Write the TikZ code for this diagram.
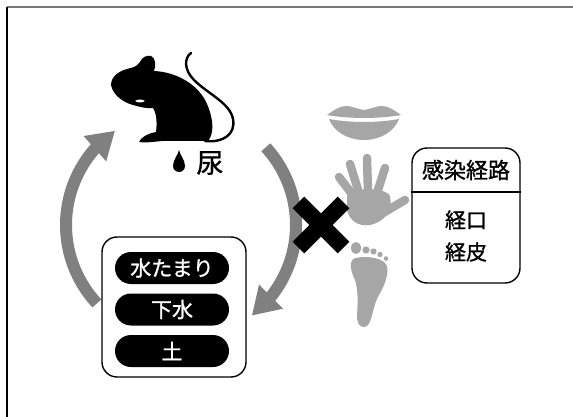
\documentclass[tikz,border=0pt]{standalone}
\usepackage{fontspec}
\newfontfamily\jp{Noto Sans CJK JP}[FakeBold=1.2]
\usetikzlibrary{arrows.meta,bending}
\definecolor{arrowGray}{RGB}{128,128,128}
\definecolor{iconGray}{RGB}{166,166,166}
\definecolor{frameGray}{RGB}{120,120,120}
\begin{document}
\begin{tikzpicture}[x=1pt,y=-1pt,
  loopArrow/.style={draw=arrowGray,line width=12pt,-{Triangle[width=32pt,length=27pt]}},
  panel/.style={draw=black,line width=1.4pt,rounded corners=15pt,fill=white,inner sep=0pt},
  pill/.style={fill=black,text=white,rounded corners=16pt,minimum width=114pt,minimum height=32pt,inner sep=0pt,font=\jp\fontsize{21}{21}\selectfont},
  txt/.style={font=\jp\fontsize{21}{21}\selectfont,inner sep=0pt},
  finger/.style={draw=iconGray,line width=8.5pt,line cap=round},
  crossBar/.style={draw=black,line width=16.5pt},
]
\useasboundingbox (0,0) rectangle (573,417);

% frame
\draw[frameGray,line width=1.5pt] (7,7) -- (573,7);
\draw[black,line width=1.5pt] (7,7) -- (7,417);

% cycle arrows
\coordinate (lstart) at (96.9,303.4);
\coordinate (rstart) at (265.8,147.3);
\draw[loopArrow] (lstart) arc[start angle=137,end angle=235,radius=115];
\draw[loopArrow] (rstart) arc[start angle=-42.5,end angle=52,radius=115];

% mouse
\fill (111,85) .. controls (111,76) and (120,70) .. (131,68)
  .. controls (135,67) and (138,65) .. (140,62)
  .. controls (142,57) and (147,55) .. (151,56)
  .. controls (156,58) and (156,66) .. (154,71)
  .. controls (177,72) and (199,85) .. (207,104)
  .. controls (214,120) and (214,134) .. (208,141)
  -- (162,141)
  .. controls (152,142) and (144,143) .. (139,142)
  .. controls (141,137) and (149,133) .. (156,132)
  .. controls (157,124) and (157,114) .. (153,108)
  .. controls (148,109) and (140,107) .. (133,105)
  .. controls (125,103) and (113,96) .. (111,85) -- cycle;
\fill[white] (135,101) .. controls (138,99) and (142,99) .. (145,101)
  .. controls (142,103) and (138,103) .. (135,101) -- cycle;
\draw[line width=2.4pt,line cap=round] (205,141) .. controls (222,143) and (236,135) .. (233,119)
  .. controls (230,103) and (208,94) .. (194,80)
  .. controls (184,70) and (184,58) .. (191,53);

% urine drop and label
\fill (179,150) .. controls (180,155) and (185,160) .. (185,166)
  arc[start angle=0,end angle=180,radius=6]
  .. controls (173,160) and (178,155) .. (179,150) -- cycle;
\node[font=\jp\fontsize{27}{27}\selectfont,inner sep=0pt] (urine) at (210,163) {尿};

% lips
\fill[iconGray] (327,115) .. controls (334,110) and (340,106) .. (346,106)
  .. controls (352,106) and (357,109) .. (364,110)
  .. controls (371,109) and (376,106) .. (382,106)
  .. controls (388,106) and (394,110) .. (401,115)
  .. controls (390,117) and (376,118) .. (364,118)
  .. controls (352,118) and (338,117) .. (327,115) -- cycle;
\fill[iconGray] (329,119) .. controls (340,121) and (352,122) .. (364,122)
  .. controls (376,122) and (388,121) .. (399,119)
  .. controls (394,132) and (380,140) .. (364,140)
  .. controls (348,140) and (334,132) .. (329,119) -- cycle;

% hand
\draw[finger] (355,198) -- (339,177);
\draw[finger] (359,193) -- (350,164);
\draw[finger] (368,192) -- (367,158);
\draw[finger] (377,193) -- (385,168);
\draw[finger] (383,213) -- (405,200);
\fill[iconGray] (347,196) .. controls (350,188) and (385,186) .. (390,196)
  .. controls (393,210) and (385,222) .. (370,225)
  .. controls (358,227) and (349,220) .. (347,210) -- cycle;

% foot
\fill[iconGray] (356,248) ellipse[x radius=5,y radius=6];
\fill[iconGray] (366,250) circle[radius=3.6];
\fill[iconGray] (373.5,251.5) circle[radius=3.1];
\fill[iconGray] (380,254.5) circle[radius=2.7];
\fill[iconGray] (386,258.5) circle[radius=2.3];
\fill[iconGray] (353,259) .. controls (362,255) and (381,257) .. (386,264)
  .. controls (390,271) and (385,285) .. (379,295)
  .. controls (373,305) and (373,318) .. (368,325)
  .. controls (363,330) and (357,326) .. (357,316)
  .. controls (358,300) and (358,290) .. (355,280)
  .. controls (351,272) and (349,263) .. (353,259) -- cycle;

% cross
\draw[crossBar] (298.4,202.4) -- (343.6,247.6);
\draw[crossBar] (343.6,202.4) -- (298.4,247.6);

% infection route box
\node[panel,minimum width=108pt,minimum height=135pt] (route) at (466,215.5) {};
\draw[line width=1.2pt] (route.west |- 0,192) -- (route.east |- 0,192);
\node[txt,font=\jp\fontsize{22}{22}\selectfont] (routeTitle) at (466,170) {感染経路};
\node[txt] (oral) at (466,220) {経口};
\node[txt] (skin) at (466,252) {経皮};

% source box
\node[panel,minimum width=144pt,minimum height=140pt] (source) at (174,307) {};
\node[pill] (puddle) at (172,268) {水たまり};
\node[pill] (sewer) at (172,309.5) {下水};
\node[pill] (soil) at (172,351) {土};
\end{tikzpicture}
\end{document}
